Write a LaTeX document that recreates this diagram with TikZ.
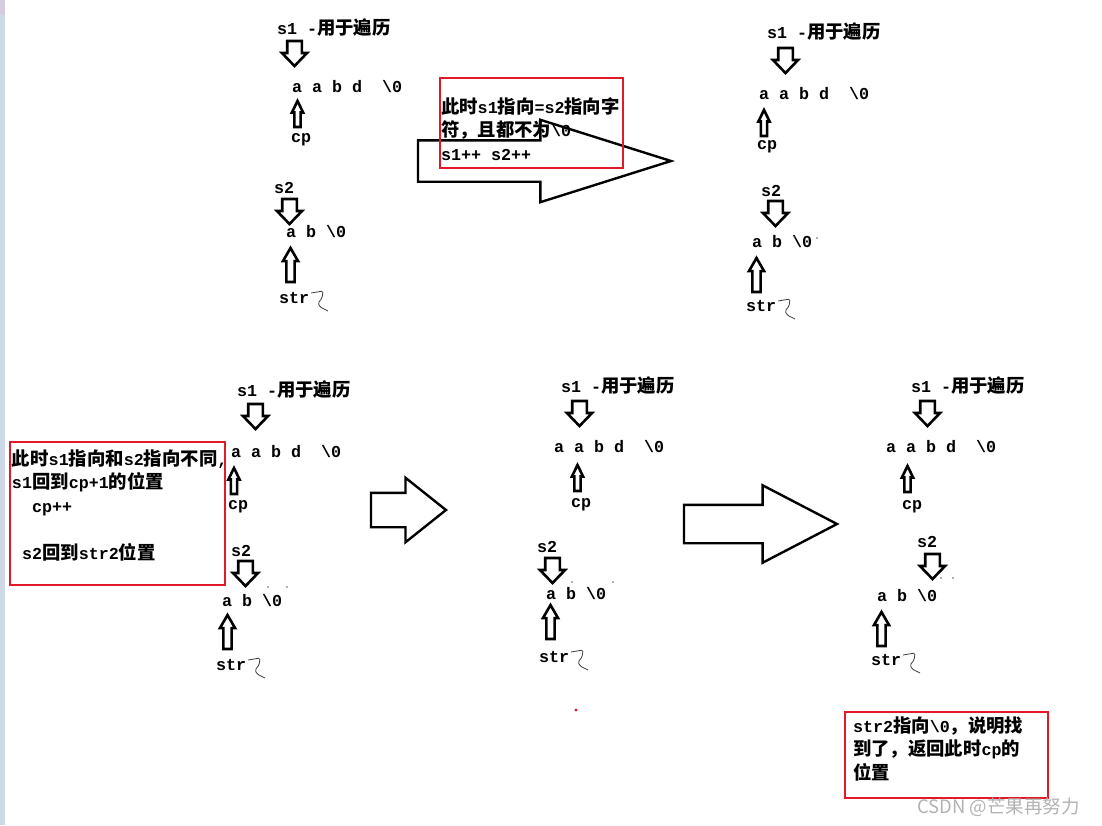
\documentclass[tikz,border=0pt]{standalone}
\usepackage{fontspec}
\setmainfont{Liberation Mono}
\newfontfamily\cjk[Scale=1.1]{Noto Sans CJK SC}
\newfontfamily\wmfont{Noto Sans CJK SC}
\usetikzlibrary{shapes.arrows,positioning}
\definecolor{boxred}{RGB}{225,25,40}
\definecolor{stripblue}{RGB}{205,217,231}
\definecolor{stripmauve}{RGB}{214,204,224}
\definecolor{markgray}{RGB}{178,178,178}
\tikzset{every picture/.style={/utils/exec={\fontsize{16.7pt}{23.5pt}\selectfont\bfseries}}}
\tikzset{
	outer sep=0pt, line join=miter,
}
\newcommand{\bs}{\textbackslash}

\begin{document}
\begin{tikzpicture}[
	x=1pt, y=-1pt,
	txt/.style={anchor=base west, inner sep=0pt},
	notetxt/.style={anchor=base west, inner sep=0pt, align=left},
	notebox/.style={draw=boxred, line width=2.4pt, anchor=north west, inner sep=0pt},
	downarr/.style={draw, single arrow, rotate=-90, anchor=tail, line width=2.6pt, inner sep=0pt, inner ysep=6pt, minimum height=25pt, single arrow head extend=5.25pt, single arrow tip angle=88},
	cparr/.style={draw, single arrow, rotate=90, anchor=tail, line width=2.6pt, inner sep=0pt, inner ysep=1.8pt, minimum height=26pt, single arrow head extend=2.5pt, single arrow tip angle=52},
	strarr/.style={draw, single arrow, rotate=90, anchor=tail, line width=2.6pt, inner sep=0pt, inner ysep=2.8pt, minimum height=34pt, single arrow head extend=3.5pt, single arrow tip angle=60},
	bigarr/.style={draw, single arrow, anchor=tail, line width=2.4pt, inner sep=0pt},
	squig/.style={draw=black!75, line width=0.8pt, rounded corners=1.5pt},
	]
	\useasboundingbox (0,0) rectangle (1102,825);
	%window edge
	\fill[stripblue] (0,0) rectangle (5,825);
	\fill[stripmauve] (0,0) rectangle (5,15);

	%first state
	\node[txt] (s1a) at (277,34) {s1 -{\cjk 用于遍历}};
	\node[downarr] (s1aarr) at (294.5,41) {};
	\node[txt] (str1a) at (292,92) {a a b d~~\bs0};
	\node[cparr] (cpaarr) at (297.5,127) {};
	\node[txt] (cpa) at (291,142) {cp};
	\node[txt] (s2a) at (274,193) {s2};
	\node[downarr] (s2aarr) at (289.5,199) {};
	\node[txt] (str2a) at (286,237) {a b \bs0};
	\node[strarr] (straarr) at (290.5,282) {};
	\node[txt] (stra) at (279,303) {str};
	\draw[squig] ([xshift=2pt,yshift=10pt]stra.base east) -- ++(12,-2) -- ++(-1,7) -- ++(-4,5) -- ++(2,4) -- ++(8,4);

	%step 1
	\node[bigarr, minimum height=253pt, inner ysep=19.5pt, single arrow head extend=20.5pt, single arrow tip angle=35] (go1) at (418,161) {};
	\node[notebox, minimum width=183pt, minimum height=90pt] (note1) at (440,78) {};
	\node[notetxt] (note1txt) at (441,160) {{\cjk 此时}s1{\cjk 指向}=s2{\cjk 指向字}\\{\cjk 符，且都不为}\bs0\\s1++ s2++};

	%second state
	\node[txt] (s1b) at (767,38) {s1 -{\cjk 用于遍历}};
	\node[downarr] (s1barr) at (785.5,48) {};
	\node[txt] (str1b) at (759,99) {a a b d~~\bs0};
	\node[cparr] (cpbarr) at (764,136) {};
	\node[txt] (cpb) at (757,149) {cp};
	\node[txt] (s2b) at (761,196) {s2};
	\node[downarr] (s2barr) at (775.5,201) {};
	\node[txt] (str2b) at (752,247) {a b \bs0};
	\node[strarr] (strbarr) at (756.5,292) {};
	\node[txt] (strb) at (746,311) {str};
	\draw[squig] ([xshift=2pt,yshift=10pt]strb.base east) -- ++(12,-2) -- ++(-1,7) -- ++(-4,5) -- ++(2,4) -- ++(8,4);

	%third state
	\node[txt] (s1c) at (237,396) {s1 -{\cjk 用于遍历}};
	\node[downarr] (s1carr) at (255.5,404) {};
	\node[txt] (str1c) at (231,457) {a a b d~~\bs0};
	\node[cparr] (cpcarr) at (234,494) {};
	\node[txt] (cpc) at (228,509) {cp};
	\node[txt] (s2c) at (231,556) {s2};
	\node[downarr] (s2carr) at (245.5,561) {};
	\node[txt] (str2c) at (222,606) {a b \bs0};
	\node[strarr] (strcarr) at (227.5,649) {};
	\node[txt] (strc) at (216,670) {str};
	\draw[squig] ([xshift=2pt,yshift=10pt]strc.base east) -- ++(12,-2) -- ++(-1,7) -- ++(-4,5) -- ++(2,4) -- ++(8,4);
	\node[notebox, minimum width=215pt, minimum height=143pt] (note2) at (10,442) {};
	\node[notetxt] (note2txt) at (12,559) {{\cjk 此时}s1{\cjk 指向和}s2{\cjk 指向不同},\\s1{\cjk 回到}cp+1{\cjk 的位置}\\~~cp++\\[23.5pt]~s2{\cjk 回到}str2{\cjk 位置}};

	%step 2
	\node[bigarr, minimum height=75pt, inner ysep=16pt, single arrow head extend=15pt, single arrow tip angle=77] (go2) at (371,510) {};

	%fourth state
	\node[txt] (s1d) at (561,392) {s1 -{\cjk 用于遍历}};
	\node[downarr] (s1darr) at (579.5,401) {};
	\node[txt] (str1d) at (554,452) {a a b d~~\bs0};
	\node[cparr] (cpdarr) at (577.5,491) {};
	\node[txt] (cpd) at (571,507) {cp};
	\node[txt] (s2d) at (537,552) {s2};
	\node[downarr] (s2darr) at (552.5,558) {};
	\node[txt] (str2d) at (546,599) {a b \bs0};
	\node[strarr] (strdarr) at (550.5,639) {};
	\node[txt] (strd) at (539,662) {str};
	\draw[squig] ([xshift=2pt,yshift=10pt]strd.base east) -- ++(12,-2) -- ++(-1,7) -- ++(-4,5) -- ++(2,4) -- ++(8,4);

	%step 3
	\node[bigarr, minimum height=153pt, inner ysep=18pt, single arrow head extend=19.5pt, single arrow tip angle=55] (go3) at (684,524) {};

	%fifth state
	\node[txt] (s1e) at (911,392) {s1 -{\cjk 用于遍历}};
	\node[downarr] (s1earr) at (927.5,401) {};
	\node[txt] (str1e) at (886,452) {a a b d~~\bs0};
	\node[cparr] (cpearr) at (907.5,492) {};
	\node[txt] (cpe) at (902,509) {cp};
	\node[txt] (s2e) at (917,547) {s2};
	\node[downarr] (s2earr) at (932.5,554) {};
	\node[txt] (str2e) at (877,601) {a b \bs0};
	\node[strarr] (streearr) at (881.5,646) {};
	\node[txt] (stre) at (871,665) {str};
	\draw[squig] ([xshift=2pt,yshift=10pt]stre.base east) -- ++(12,-2) -- ++(-1,7) -- ++(-4,5) -- ++(2,4) -- ++(8,4);
	\node[notebox, minimum width=203pt, minimum height=86pt] (note3) at (845,712) {};
	\node[notetxt] (note3txt) at (853,779) {str2{\cjk 指向}\bs0{\cjk ，说明找}\\{\cjk 到了，返回此时}cp{\cjk 的}\\{\cjk 位置}};

	%stray marks
	\fill[black!60] (795,237) circle (0.8) (817,238) circle (0.8) (268,587) circle (0.8) (287,587) circle (0.8)
		(572,582) circle (0.8) (613,582) circle (0.8) (941,578) circle (0.8) (953,578) circle (0.8);
	\fill[boxred] (576,710) circle (1.6);

	%watermark
	\node[txt, text=markgray] (wm) at (917,813) {\wmfont\mdseries\fontsize{18.5pt}{20pt}\selectfont CSDN @芒果再努力};
\end{tikzpicture}
\end{document}
